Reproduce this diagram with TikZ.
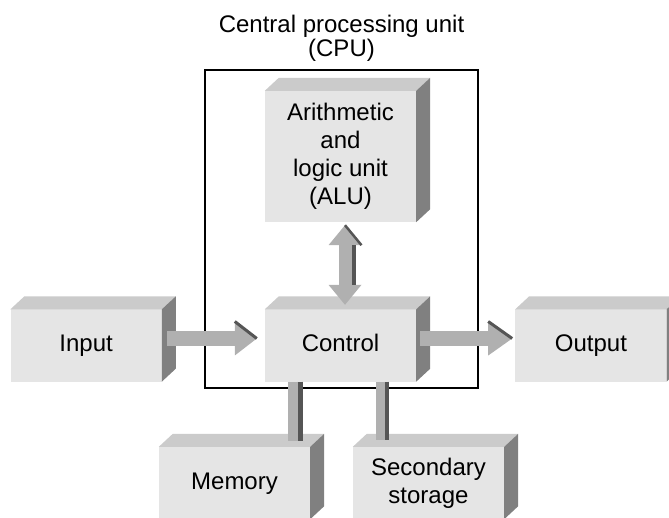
\documentclass[tikz,border=0pt]{standalone}
\usepackage{fontspec}
\setmainfont{Liberation Sans}
\usetikzlibrary{arrows.meta,calc,positioning}

\definecolor{facegray}{HTML}{E5E5E5}
\definecolor{topgray}{HTML}{CBCBCB}
\definecolor{sidegray}{HTML}{808080}
\definecolor{shaftgray}{HTML}{B0B0B0}
\definecolor{edgegray}{HTML}{555555}

\begin{document}
\begin{tikzpicture}[x=1pt, y=1pt,
    unit/.style={fill=facegray, inner sep=0pt, minimum width=151pt, minimum height=72pt, align=center, font=\fontsize{24}{28}\selectfont},
    oneline/.style={text height=17pt, text depth=5pt},
    flow/.style={draw=shaftgray, line width=15pt, -{Triangle[length=22pt,width=34pt,line width=0pt]}},
    link/.style={draw=shaftgray, line width=10pt},
    shade/.style={draw=edgegray, line width=4.5pt}]

    % Define variables
    \def\dx{14} % horizontal depth of the blocks
    \def\dy{13} % vertical depth of the blocks

    \useasboundingbox (0,0) rectangle (669,517);
    \clip (0,0) rectangle (669,517);

    % Draw the CPU frame
    \node[draw, line width=1.8pt, minimum width=273pt, minimum height=318pt,
        label={[align=center, font=\fontsize{24}{24}\selectfont, label distance=4pt]above:Central processing unit\\(CPU)}] (cpu) at (341.5,288) {};

    % Draw the blocks
    \node[unit, oneline] (control) at (340.5,171.5) {Control};
    \node[unit, minimum height=131pt] (alu) at (340.5,360.5) {Arithmetic\\and\\logic unit\\(ALU)};
    \node[unit, oneline, left=103pt of control] (input) {Input};
    \node[unit, oneline, right=99pt of control] (output) {Output};
    \node[unit, oneline] (memory) at (234.5,34) {Memory};
    \node[unit] (storage) at (428.5,34) {Secondary\\storage};

    % Draw the top and side faces
    \foreach \n in {input,control,output,alu,memory,storage} {
        \fill[topgray] (\n.north west) -- ++(\dx,\dy) -- ($(\n.north east)+(\dx,\dy)$) -- (\n.north east) -- cycle;
        \fill[sidegray] (\n.north east) -- ++(\dx,\dy) -- ($(\n.south east)+(\dx,\dy)$) -- (\n.south east) -- cycle;
    }

    % Draw the input and output arrows
    \draw[flow] ($(input.east)+(5,7)$) -- ($(control.west)+(-8,7)$);
    \draw[shade, line width=3pt] ($(control.west)+(-30,24)$) -- ($(control.west)+(-8,7)$);
    \draw[flow, -{Triangle[length=24pt,width=34pt,line width=0pt]}] ($(control.east)+(4,7)$) -- ($(output.west)+(-3,7)$);
    \draw[shade, line width=3pt] ($(output.west)+(-27,24)$) -- ($(output.west)+(-3,7)$);

    % Draw the ALU link
    \draw[flow, line width=13pt, {Triangle[length=20pt,width=33pt,line width=0pt]}-{Triangle[length=20pt,width=33pt,line width=0pt]}] ($(alu.south)+(4.5,-3)$) -- ($(control.north)+(4.5,4.5)$);
    \draw[shade, line width=4pt] ($(alu.south)+(13,-23)$) -- ($(alu.south)+(13,-63)$);
    \draw[shade, line width=2.5pt] ($(alu.south)+(4.5,-3)$) -- ($(alu.south)+(21,-23)$);

    % Draw the memory and storage links
    \draw[link] ($(control.south)+(-47.5,0)$) -- ($(memory.north)+(58.5,6)$);
    \draw[shade] ($(control.south)+(-40,0)$) -- ($(memory.north)+(66,6)$);
    \draw[link, line width=9pt] ($(control.south)+(40,0)$) -- ($(storage.north)+(-48,7)$);
    \draw[shade, line width=4pt] ($(control.south)+(46.5,0)$) -- ($(storage.north)+(-41.5,7)$);
\end{tikzpicture}
\end{document}
